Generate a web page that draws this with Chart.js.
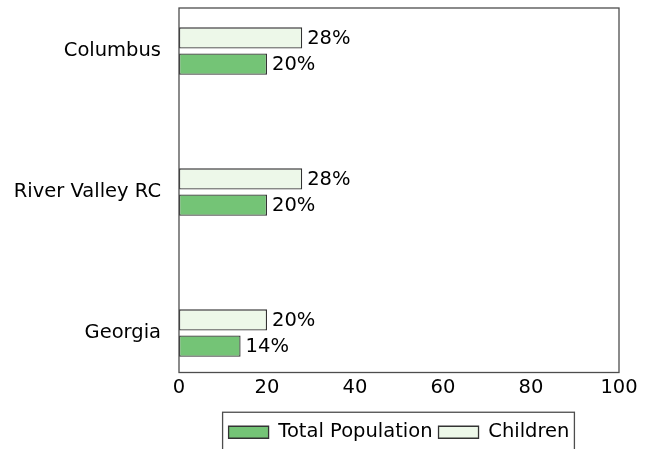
<!DOCTYPE html>
<html>
<head>
<meta charset="utf-8">
<script src="https://cdn.jsdelivr.net/npm/chart.js@4"></script>
<style>
html, body { margin: 0; padding: 0; background: #fff; }
#wrap { width: 655px; height: 449px; }
</style>
</head>
<body>
<div id="wrap"><canvas id="chart"></canvas></div>
<script>
// data
const categories = ['Columbus', 'River Valley RC', 'Georgia'];
const totalPopulation = [20, 20, 14];
const children = [28, 28, 20];
const xTicks = [0, 20, 40, 60, 80, 100];

const FONT = '"DejaVu Sans", sans-serif';
const FSIZE = 19.5;

// box round the plot area
const framePlugin = {
    id: 'frame',
    afterDraw(chart) {
        const a = chart.chartArea;
        const ctx = chart.ctx;
        ctx.save();
        ctx.strokeStyle = '#4d4d4d';
        ctx.lineWidth = 1.3;
        ctx.strokeRect(a.left, a.top, a.right - a.left, a.bottom - a.top);
        ctx.restore();
    }
};

// "28%" labels at bar ends
const valueLabels = {
    id: 'valueLabels',
    afterDatasetsDraw(chart) {
        const ctx = chart.ctx;
        ctx.save();
        ctx.font = FSIZE + 'px ' + FONT;
        ctx.fillStyle = '#000';
        ctx.textBaseline = 'middle';
        chart.data.datasets.forEach((ds, i) => {
            chart.getDatasetMeta(i).data.forEach((bar, j) => {
                ctx.fillText(ds.data[j].x + '%', bar.x + 5, bar.y + 1);
            });
        });
        ctx.restore();
    }
};

// box round the legend
const legendBox = {
    id: 'legendBox',
    afterDraw(chart) {
        const hb = chart.legend.legendHitBoxes;
        if (!hb || !hb.length) return;
        const left = Math.min(...hb.map(h => h.left)) - 6;
        const right = Math.max(...hb.map(h => h.left + h.width)) + 5;
        const mid = hb[0].top + hb[0].height / 2;
        const ctx = chart.ctx;
        ctx.save();
        ctx.strokeStyle = '#4d4d4d';
        ctx.lineWidth = 1.3;
        ctx.strokeRect(left, mid - 20, right - left, 60);
        ctx.restore();
    }
};

const ctx = document.getElementById('chart').getContext('2d');
new Chart(ctx, {
    type: 'bar',
    data: {
        datasets: [
            {
                label: 'Children',
                data: children.map((v, i) => ({ x: v, y: i })),
                backgroundColor: '#edf8e9',
                borderColor: '#333333',
                borderWidth: 1.3,
                borderSkipped: false
            },
            {
                label: 'Total Population',
                data: totalPopulation.map((v, i) => ({ x: v, y: i })),
                backgroundColor: '#74c476',
                borderColor: '#333333',
                borderWidth: 1.3,
                borderSkipped: false
            }
        ]
    },
    options: {
        indexAxis: 'y',
        responsive: true,
        maintainAspectRatio: false,
        animation: false,
        categoryPercentage: 0.371,
        barPercentage: 0.81,
        layout: { padding: { left: 0, right: 36, top: 8, bottom: -3 } },
        plugins: {
            legend: {
                position: 'bottom',
                fullSize: false,
                reverse: true,
                labels: {
                    boxWidth: 40,
                    boxHeight: 12,
                    padding: 6,
                    color: '#000',
                    font: { family: FONT, size: FSIZE }
                }
            },
            tooltip: { enabled: false }
        },
        scales: {
            x: {
                type: 'linear',
                min: 0,
                max: 100,
                afterBuildTicks: s => { s.ticks = xTicks.map(v => ({ value: v })); },
                afterFit: s => {
                    s.height = 44;
                    s.paddingLeft = 0;
                    s.paddingRight = 0;
                },
                grid: { display: false, drawTicks: false },
                border: { display: false },
                ticks: { color: '#000', padding: 4, font: { family: FONT, size: FSIZE } }
            },
            y: {
                type: 'linear',
                reverse: true,
                offset: false,
                min: -0.305,
                max: 2.28,
                afterFit: s => {
                    s.width = 179;
                    s.paddingTop = 0;
                    s.paddingBottom = 0;
                },
                grid: { display: false, drawTicks: false, offset: false },
                border: { display: false },
                ticks: {
                    stepSize: 1,
                    includeBounds: false,
                    padding: 18,
                    color: '#000',
                    font: { family: FONT, size: FSIZE },
                    callback: v => categories[v] ?? ''
                }
            }
        }
    },
    plugins: [framePlugin, valueLabels, legendBox]
});
</script>
</body>
</html>
